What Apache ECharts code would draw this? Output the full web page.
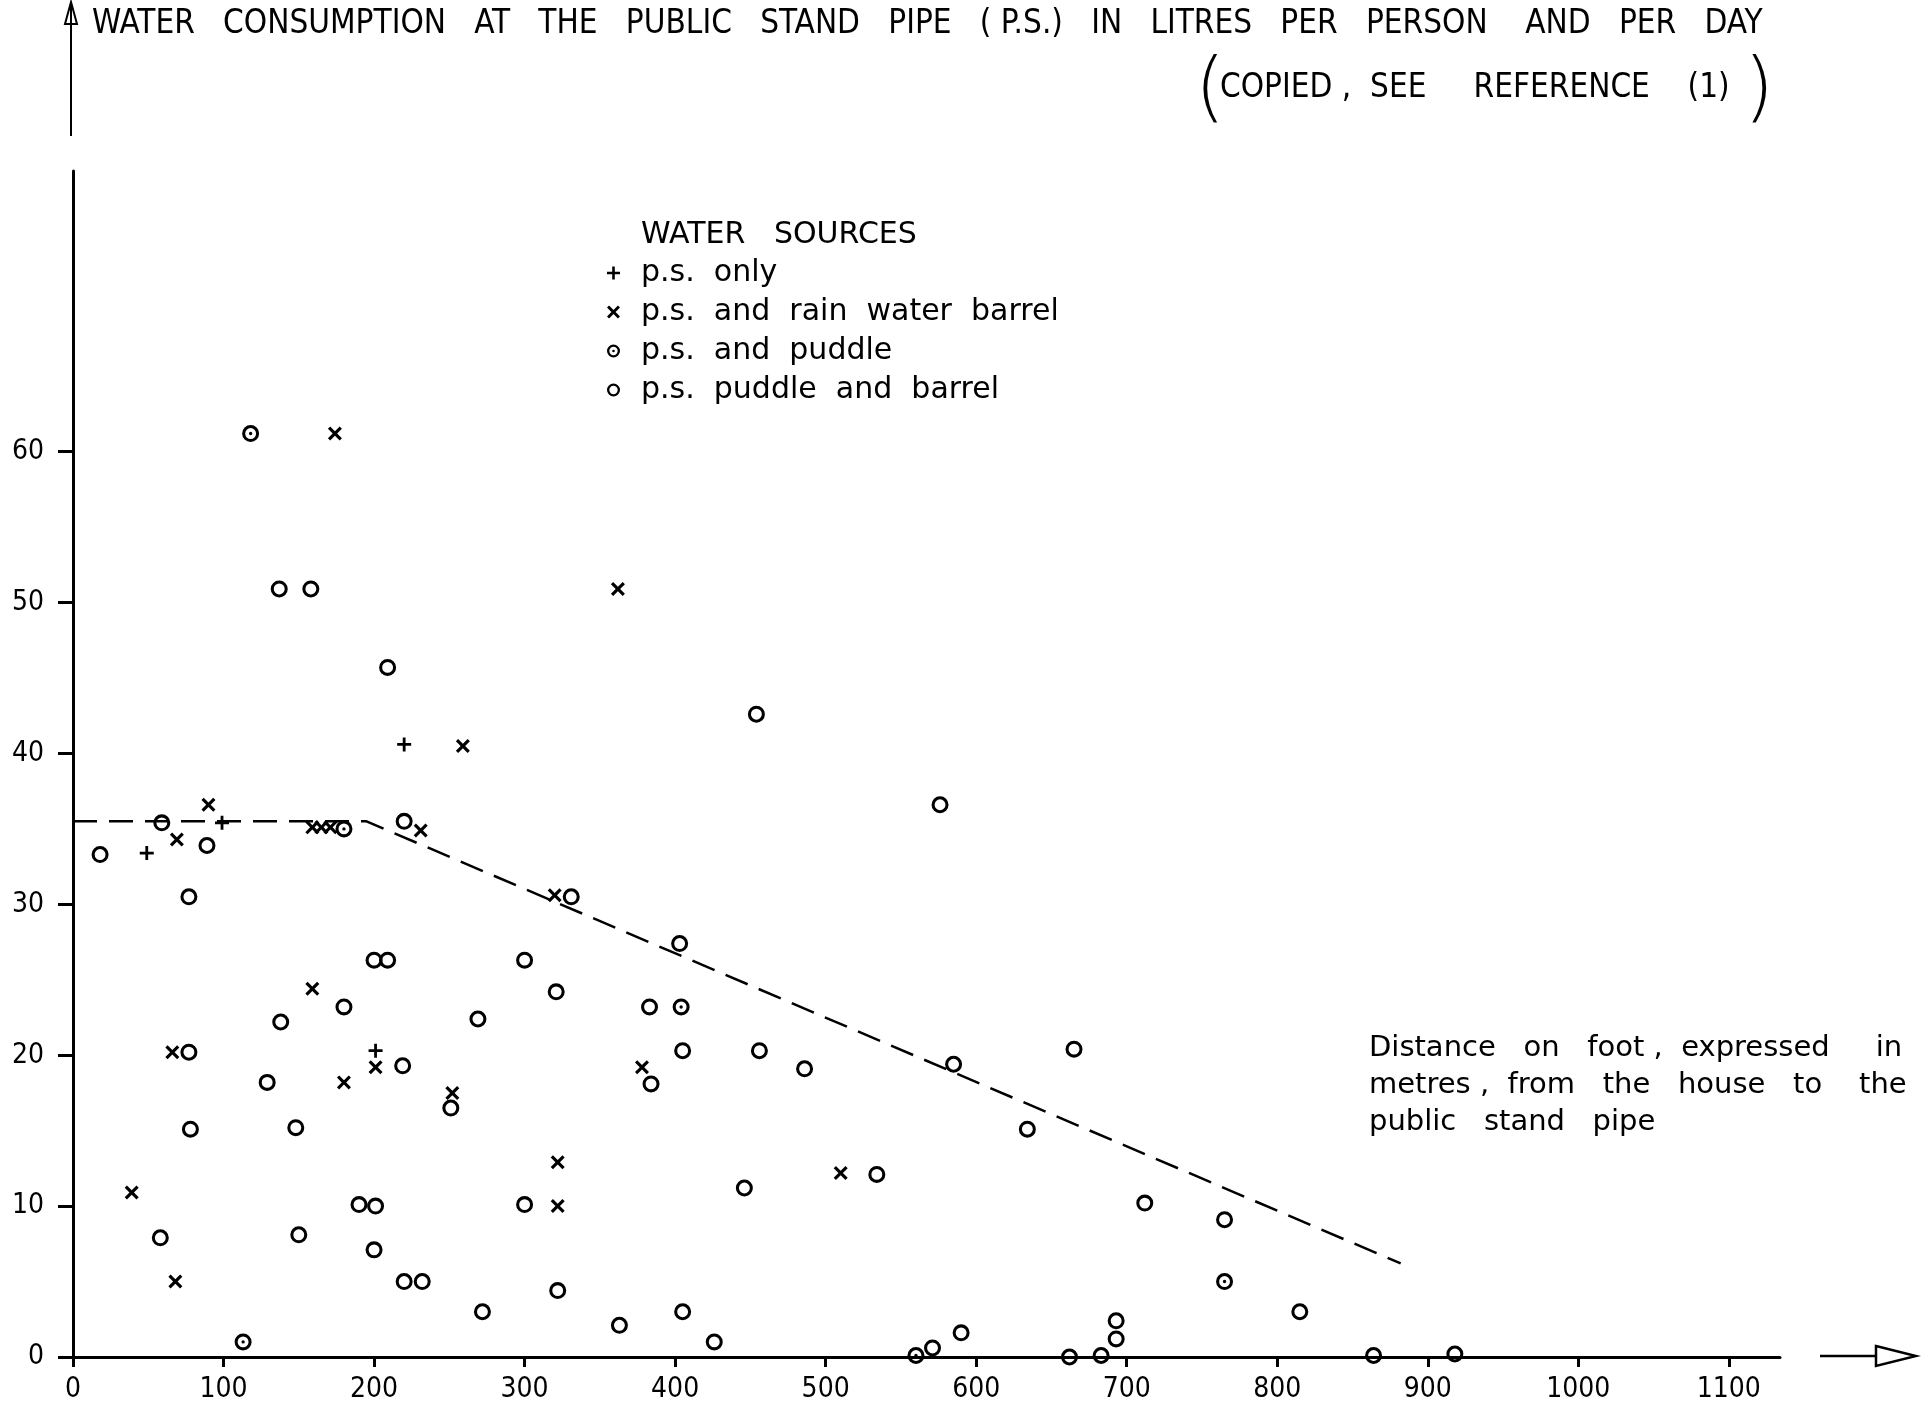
<!DOCTYPE html>
<html>
<head>
<meta charset="utf-8">
<title>Water consumption at the public stand pipe</title>
<script src="https://cdn.jsdelivr.net/npm/echarts@6/dist/echarts.min.js"></script>
<style>
	html, body { margin: 0; padding: 0; background: #fff; }
	#chart { width: 1921px; height: 1401px; }
</style>
</head>
<body>
<div id="chart"></div>
<script>
	// [distance on foot in metres, litres per person and per day]
	var psOnly = [[49, 33.4], [99, 35.4], [220, 40.6], [201, 20.3]];

	var psBarrel = [
		[174, 61.2], [362, 50.9], [259, 40.5], [90, 36.6], [69, 34.3], [159, 35.1],
		[165, 35.1], [171, 35.1], [231, 34.9], [320, 30.6], [159, 24.4], [66, 20.2],
		[201, 19.2], [180, 18.2], [252, 17.5], [378, 19.2], [322, 12.9], [510, 12.2],
		[39, 10.9], [322, 10.0], [68, 5.0]
	];

	var psPuddle = [[118, 61.2], [180, 35.0], [404, 23.2], [113, 1.0], [765, 5.0], [560, 0.1]];

	var psPuddleBarrel = [
		[137, 50.9], [158, 50.9], [209, 45.7], [454, 42.6], [576, 36.6], [59, 35.4],
		[220, 35.5], [18, 33.3], [89, 33.9], [77, 30.5], [331, 30.5], [403, 27.4],
		[200, 26.3], [209, 26.3], [300, 26.3], [321, 24.2], [180, 23.2], [138, 22.2],
		[269, 22.4], [383, 23.2], [77, 20.2], [219, 19.3], [405, 20.3], [456, 20.3],
		[665, 20.4], [486, 19.1], [585, 19.4], [129, 18.2], [384, 18.1], [251, 16.5],
		[78, 15.1], [148, 15.2], [634, 15.1], [534, 12.1], [446, 11.2], [190, 10.1],
		[201, 10.0], [300, 10.1], [712, 10.2], [765, 9.1], [58, 7.9], [150, 8.1],
		[200, 7.1], [220, 5.0], [232, 5.0], [322, 4.4], [272, 3.0], [405, 3.0],
		[815, 3.0], [363, 2.1], [426, 1.0], [693, 2.4], [693, 1.2], [590, 1.6],
		[571, 0.6], [662, 0.0], [683, 0.1], [864, 0.1], [918, 0.2]
	];

	// dashed guide line
	var trendLine = [[0, 35.5], [195, 35.5], [882, 6.2]];

	var xTicks = [0, 100, 200, 300, 400, 500, 600, 700, 800, 900, 1000, 1100];
	var yTicks = [0, 10, 20, 30, 40, 50, 60];

	var seriesNames = ['p.s. only', 'p.s. and rain water barrel', 'p.s. and puddle', 'p.s. puddle and barrel'];

	var COND = '"DejaVu Sans Condensed", "DejaVu Sans", sans-serif';
	var ROUND = '"DejaVu Sans", sans-serif';

	// symbols as filled paths
	var PLUS = 'path://M4,0H6V4H10V6H6V10H4V6H0V4H4Z';
	var CROSS = 'path://M0,1.6L1.6,0L5,3.4L8.4,0L10,1.6L6.6,5L10,8.4L8.4,10L5,6.6L1.6,10L0,8.4L3.4,5Z';
	var RING_BODY = 'M10,0A10,10 0 1,1 10,20A10,10 0 1,1 10,0Z' +
		'M10,3.6A6.4,6.4 0 1,0 10,16.4A6.4,6.4 0 1,0 10,3.6Z';
	var RING = 'path://' + RING_BODY;
	var RING_DOT = 'path://' + RING_BODY + 'M10,8A2,2 0 1,1 10,12A2,2 0 1,1 10,8Z';

	var chart = echarts.init(document.getElementById('chart'));

	function pointSeries(name, data, symbol, size) {
		return {
			name: name,
			type: 'scatter',
			data: data,
			symbol: symbol,
			symbolSize: size,
			itemStyle: { color: '#000', opacity: 1 },
			z: 5
		};
	}

	chart.setOption({
		animation: false,
		backgroundColor: '#fff',
		grid: {
			left: 73,
			right: 141,
			top: 171,
			bottom: 44,
			outerBoundsMode: 'none'
		},
		legend: {
			data: seriesNames,
			orient: 'vertical',
			left: 602,
			top: 253,
			itemWidth: 13,
			itemHeight: 13,
			itemGap: 9,
			selectedMode: false,
			formatter: function(name) {
				return name.replace(/ /g, '  ');
			},
			textStyle: {
				fontFamily: ROUND,
				fontSize: 30,
				lineHeight: 30,
				color: '#000',
				padding: [0, 0, 0, 16]
			}
		},
		xAxis: {
			type: 'value',
			min: 0,
			max: 1134,
			interval: 100,
			splitLine: { show: false },
			axisLine: { show: true, lineStyle: { color: '#000', width: 3 } },
			axisTick: {
				show: true,
				customValues: xTicks,
				length: 10,
				lineStyle: { color: '#000', width: 3 }
			},
			axisLabel: {
				customValues: xTicks,
				formatter: function(v) { return String(v); },
				margin: 19,
				color: '#000',
				fontFamily: COND,
				fontSize: 28
			}
		},
		yAxis: {
			type: 'value',
			min: 0,
			max: 78.6,
			interval: 10,
			splitLine: { show: false },
			axisLine: { show: true, lineStyle: { color: '#000', width: 3 } },
			axisTick: {
				show: true,
				customValues: yTicks,
				length: 15,
				lineStyle: { color: '#000', width: 3 }
			},
			axisLabel: {
				customValues: yTicks,
				formatter: function(v) { return String(v); },
				margin: 29,
				color: '#000',
				fontFamily: COND,
				fontSize: 28
			}
		},
		series: [
			{
				type: 'line',
				data: trendLine,
				symbol: 'none',
				silent: true,
				lineStyle: { color: '#000', width: 2.5, type: [24, 12] },
				z: 2
			},
			pointSeries(seriesNames[0], psOnly, PLUS, 14),
			pointSeries(seriesNames[1], psBarrel, CROSS, 14),
			pointSeries(seriesNames[2], psPuddle, RING_DOT, 17),
			pointSeries(seriesNames[3], psPuddleBarrel, RING, 17)
		],
		graphic: [
			{
				type: 'text',
				x: 92,
				y: 24,
				style: {
					text: 'WATER   CONSUMPTION   AT   THE   PUBLIC   STAND   PIPE   ( P.S.)   IN   LITRES   PER   PERSON    AND   PER   DAY',
					fontFamily: COND,
					fontSize: 33,
					fill: '#000',
					verticalAlign: 'middle'
				}
			},
			{
				type: 'text',
				x: 1195,
				y: 92,
				style: { text: '(', fontFamily: ROUND, fontWeight: 200, fontSize: 77, fill: '#000', verticalAlign: 'middle' }
			},
			{
				type: 'text',
				x: 1220,
				y: 88,
				style: {
					text: 'COPIED ,  SEE     REFERENCE    (1)',
					fontFamily: COND,
					fontSize: 33,
					fill: '#000',
					verticalAlign: 'middle'
				}
			},
			{
				type: 'text',
				x: 1744,
				y: 92,
				style: { text: ')', fontFamily: ROUND, fontWeight: 200, fontSize: 77, fill: '#000', verticalAlign: 'middle' }
			},
			{
				type: 'text',
				x: 641,
				y: 235,
				style: {
					text: 'WATER   SOURCES',
					fontFamily: ROUND,
					fontSize: 30,
					fill: '#000',
					verticalAlign: 'middle'
				}
			},
			{
				type: 'text',
				x: 1369,
				y: 1030,
				style: {
					text: 'Distance   on   foot ,  expressed     in\nmetres ,  from   the   house   to    the\npublic   stand   pipe',
					fontFamily: ROUND,
					fontSize: 29,
					lineHeight: 37,
					fill: '#000'
				}
			},
			// arrow on top of the y axis
			{
				type: 'line',
				shape: { x1: 71, y1: 4, x2: 71, y2: 136 },
				style: { stroke: '#000', lineWidth: 2 }
			},
			{
				type: 'polygon',
				shape: { points: [[71, 2], [65, 24], [77, 24]] },
				style: { fill: 'none', stroke: '#000', lineWidth: 2 }
			},
			// arrow at the end of the x axis
			{
				type: 'line',
				shape: { x1: 1820, y1: 1356, x2: 1876, y2: 1356 },
				style: { stroke: '#000', lineWidth: 2.5 }
			},
			{
				type: 'polygon',
				shape: { points: [[1876, 1346], [1916, 1356], [1876, 1366]] },
				style: { fill: 'none', stroke: '#000', lineWidth: 2.5 }
			}
		]
	});
</script>
</body>
</html>
